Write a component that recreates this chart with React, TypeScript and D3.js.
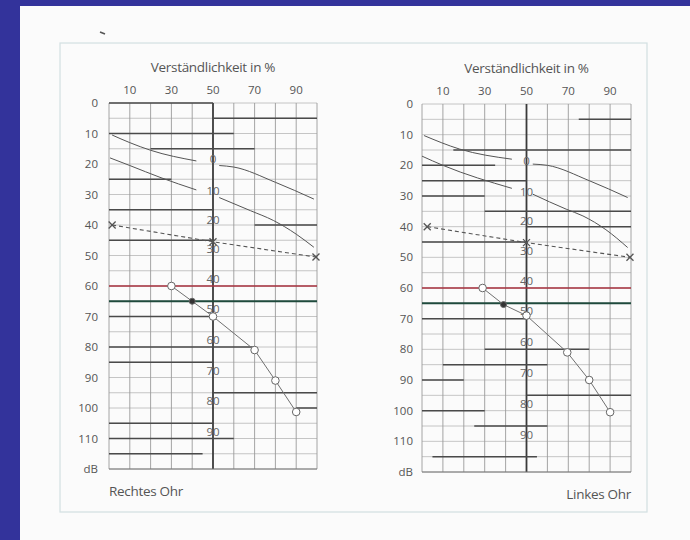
import React from "react";
import * as d3 from "d3";

const pctTicks = [10, 30, 50, 70, 90];
const dbTicks = [0, 10, 20, 30, 40, 50, 60, 70, 80, 90, 100, 110];
const lossLabels = ["0", "10", "20", "30", "40", "50", "60", "70", "80", "90"];
const lossLabelDb = [18.5, 28.8, 38.2, 47.8, 57.7, 67.6, 77.6, 87.8, 97.8, 107.8];

// left ear (Rechtes Ohr)
const leftUpperA = [[1.5, 10.5], [10, 13], [20, 15.5], [42, 19]];
const leftUpperB = [[53, 20.5], [60, 21], [80, 26], [98.5, 31.5]];
const leftLowerA = [[0.5, 18], [10, 20.5], [25, 24.5], [42, 28.5]];
const leftLowerB = [[53, 31], [68, 35.3], [79, 38.5], [90, 43], [98.5, 47.3]];
const leftDashed = [[1.5, 40], [50, 45.5], [99.5, 50.5]];
const leftCircles = [[30, 60], [40, 65], [50, 70], [70, 81], [80, 91], [90, 101.3]];
const leftBold = [[0, 0, 50], [5, 50, 100], [10, 0, 60], [15, 20, 70], [25, 0, 30], [35, 0, 50], [40, 70, 100], [45, 0, 50], [70, 0, 50], [80, 0, 70], [85, 0, 50], [95, 50, 100], [100, 90, 100], [105, 0, 50], [110, 0, 60], [115, 0, 45]];

// right ear (Linkes Ohr)
const rightUpperA = [[1, 10.3], [18, 14.7], [43, 18]];
const rightUpperB = [[53, 19.6], [60, 20], [80, 25], [98.4, 30.5]];
const rightLowerA = [[0, 17], [10, 20], [43, 27.5]];
const rightLowerB = [[53, 29.4], [69, 34.3], [77, 36.5], [88, 41], [98.4, 46.8]];
const rightDashed = [[2.5, 40], [50, 45.2], [99.5, 50]];
const rightCircles = [[29, 60], [39, 65.4], [50, 69], [69.5, 81], [80, 90], [90, 100.5]];
const rightBold = [[5, 75, 100], [15, 15, 100], [20, 0, 35], [25, 0, 50], [30, 0, 30], [35, 30, 100], [40, 50, 100], [45, 0, 50], [70, 0, 50], [80, 30, 80], [85, 10, 60], [90, 0, 20], [95, 50, 100], [100, 0, 30], [105, 25, 60], [115, 5, 55]];

const redDb = 60;
const greenDb = 65;
const filledIndex = 1;

const FONT = "'Open Sans', 'DejaVu Sans', sans-serif";
const TXT = "#555";

function Panel({ x0, x1, y0, y1, labelRight, upperA, upperB, lowerA, lowerB, dashed, circles, bold, ear, earAnchor }) {
  const x = d3.scaleLinear().domain([0, 100]).range([x0, x1]);
  const y = d3.scaleLinear().domain([0, 120]).range([y0, y1]);
  const line = d3.line().x((d) => x(d[0])).y((d) => y(d[1])).curve(d3.curveMonotoneX);
  const straight = d3.line().x((d) => x(d[0])).y((d) => y(d[1]));
  const vLines = d3.range(0, 101, 10);
  const hLines = d3.range(0, 121, 5);
  const xm = (px, py, k) => (
    <g key={k} stroke="#555" strokeWidth={1.3}>
      <line x1={px - 3.5} y1={py - 3.5} x2={px + 3.5} y2={py + 3.5} />
      <line x1={px - 3.5} y1={py + 3.5} x2={px + 3.5} y2={py - 3.5} />
    </g>
  );
  return (
    <g>
      {hLines.map((v) => (
        <line key={"h" + v} x1={x(0)} x2={x(100)} y1={y(v)} y2={y(v)} stroke="#b8b8b8" strokeWidth={0.8} />
      ))}
      {vLines.map((v) => (
        <line key={"v" + v} x1={x(v)} x2={x(v)} y1={y(0)} y2={y(120)} stroke={v === 50 ? "#3a3a3a" : "#9a9a9a"} strokeWidth={v === 50 ? 1.8 : 0.9} />
      ))}
      <line x1={x(0)} x2={x(100)} y1={y(120)} y2={y(120)} stroke="#777" strokeWidth={1.2} />
      {bold.map((b, i) => (
        <line key={"b" + i} x1={x(b[1])} x2={x(b[2])} y1={y(b[0])} y2={y(b[0])} stroke="#4a4a4a" strokeWidth={1.5} />
      ))}
      {pctTicks.map((t) => (
        <text key={"pt" + t} x={x(t)} y={y0 - 9} textAnchor="middle" fontSize={11.5} fill={TXT} fontFamily={FONT}>{t}</text>
      ))}
      {dbTicks.map((t) => (
        <text key={"dt" + t} x={labelRight} y={y(t) + 4} textAnchor="end" fontSize={11.5} fill={TXT} fontFamily={FONT}>{t}</text>
      ))}
      <text x={labelRight} y={y(120) + 4} textAnchor="end" fontSize={11.5} fill={TXT} fontFamily={FONT}>dB</text>
      <text x={x(50)} y={y0 - 31} textAnchor="middle" fontSize={13.5} letterSpacing={-0.3} fill={TXT} fontFamily={FONT}>Verständlichkeit in %</text>
      {lossLabels.map((t, i) => (
        <text key={"ll" + t} x={x(50)} y={y(lossLabelDb[i]) + 4} textAnchor="middle" fontSize={11.5} fill="#666" fontFamily={FONT}>{t}</text>
      ))}
      {[upperA, upperB, lowerA, lowerB].map((s, i) => (
        <path key={"c" + i} d={line(s)} fill="none" stroke="#555" strokeWidth={1} />
      ))}
      <path d={straight(dashed)} fill="none" stroke="#555" strokeWidth={1.1} strokeDasharray="4 3" />
      {dashed.map((d, i) => xm(x(d[0]), y(d[1]), "x" + i))}
      <line x1={x(0)} x2={x(100)} y1={y(redDb)} y2={y(redDb)} stroke="#a8323f" strokeWidth={1.4} />
      <line x1={x(0)} x2={x(100)} y1={y(greenDb)} y2={y(greenDb)} stroke="#1f4a3c" strokeWidth={2} />
      <path d={straight(circles)} fill="none" stroke="#707070" strokeWidth={1} />
      {circles.map((d, i) => (
        <circle key={"o" + i} cx={x(d[0])} cy={y(d[1])} r={i === filledIndex ? 3 : 3.8} fill={i === filledIndex ? "#333" : "#fff"} stroke="#666" strokeWidth={1} />
      ))}
      <text x={earAnchor === "start" ? x(0) : x(100)} y={y(120) + 27} textAnchor={earAnchor} fontSize={13.5} letterSpacing={-0.3} fill={TXT} fontFamily={FONT}>{ear}</text>
    </g>
  );
}

export default function App() {
  return (
    <svg width={690} height={540} style={{ position: "absolute", left: 0, top: 0 }}>
      <rect x={0} y={0} width={690} height={540} fill="#33339b" />
      <rect x={20} y={6} width={670} height={534} fill="#fbfbfb" />
      <rect x={60} y={43} width={587} height={469} fill="none" stroke="#d2dfe2" strokeWidth={1.2} />
      <line x1={100} y1={32} x2={105} y2={34} stroke="#555" strokeWidth={1.6} />
      <Panel x0={109} x1={317} y0={103} y1={469} labelRight={98} upperA={leftUpperA} upperB={leftUpperB} lowerA={leftLowerA} lowerB={leftLowerB} dashed={leftDashed} circles={leftCircles} bold={leftBold} ear="Rechtes Ohr" earAnchor="start" />
      <Panel x0={422} x1={631} y0={104} y1={472} labelRight={413} upperA={rightUpperA} upperB={rightUpperB} lowerA={rightLowerA} lowerB={rightLowerB} dashed={rightDashed} circles={rightCircles} bold={rightBold} ear="Linkes Ohr" earAnchor="end" />
    </svg>
  );
}
